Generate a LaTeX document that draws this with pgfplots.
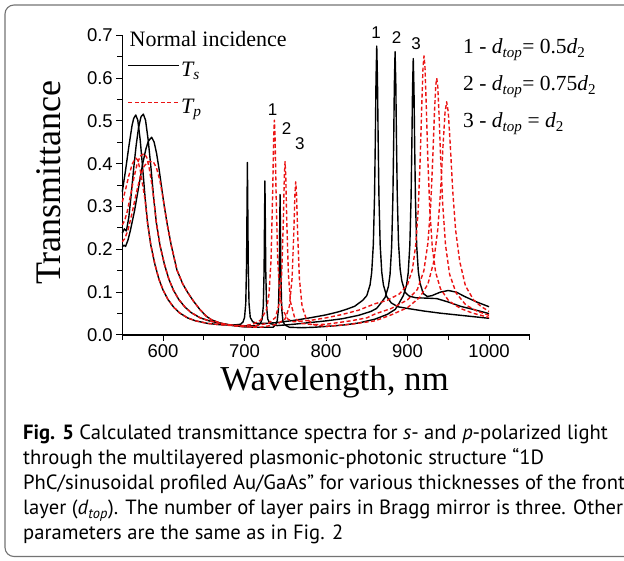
\documentclass[border=0pt]{standalone}
\usepackage{fontspec}
\setmainfont{Liberation Serif}
\newfontfamily\arial{Liberation Sans}
\newfontfamily\capfont{PT Sans}
\usepackage{pgfplots}
\pgfplotsset{compat=1.18}
\definecolor{myred}{RGB}{235,20,20}
\begin{document}
\begin{tikzpicture}[x=1pt,y=1pt]
\path[use as bounding box] (0,0) rectangle (624,561);
\draw[black!55, line width=1.1pt, rounded corners=9pt] (5,4.5) rectangle (680,556);
\begin{axis}[
 at={(122.3pt,226pt)}, anchor=south west,
 scale only axis, width=407.5pt, height=299.6pt,
 xmin=550, xmax=1050, ymin=0, ymax=0.7,
 axis lines*=left,
 axis line style={line width=1.1pt},
 xtick={600,700,800,900,1000},
 minor xtick={550,650,750,850,950,1050},
 ytick={0,0.1,0.2,0.3,0.4,0.5,0.6,0.7},
 minor ytick={0.05,0.15,0.25,0.35,0.45,0.55,0.65},
 tick align=outside,
 major tick length=6pt, minor tick length=5pt,
 tick style={line width=1pt, black},
 ticklabel style={font=\arial\fontsize{18.5}{20}\selectfont},
 /pgf/number format/assume math mode=true,
 yticklabel style={/pgf/number format/.cd, fixed, fixed zerofill, precision=1},
 xticklabel style={/pgf/number format/.cd, set thousands separator={}},
 clip=false,
 legend cell align=left,
 legend style={draw=none, fill=none, at={(axis cs:556.4,0.641)}, anchor=north west,
   font=\fontsize{22}{24}\selectfont, row sep=19pt, inner sep=0pt,
   nodes={inner sep=1pt}},
 legend image code/.code={\draw[#1, line width=1.4pt] (0pt,4pt) -- (51pt,4pt);},
 every axis plot/.append style={line width=1.4pt, line join=round},
]
% ---------- s-polarized (black) ----------
\addplot[black] coordinates {
(550,0.335) (554,0.385) (558,0.44) (562,0.49) (564,0.506) (566.5,0.514) (569,0.502) (572,0.455) (575,0.39) (578,0.32) (581,0.262) (585,0.21) (590,0.165) (595,0.13) (600,0.105) (606,0.083) (613,0.065) (620,0.052) (630,0.04) (640,0.033) (655,0.027) (670,0.024) (685,0.023) (695,0.025) (698,0.03) (700,0.041) (701.5,0.074) (702.5,0.17) (703,0.29) (703.5,0.403) (704,0.29) (704.5,0.17) (705.5,0.074) (707,0.041) (710,0.031) (715,0.027) (725,0.027) (740,0.029) (760,0.034) (780,0.04) (800,0.047) (815,0.054) (825,0.06) (835,0.067) (845,0.081) (850,0.092) (854,0.117) (856,0.146) (858,0.211) (859.5,0.325) (860.5,0.462) (861.3,0.595) (862.2,0.675) (863.1,0.595) (863.9,0.462) (864.9,0.325) (866.4,0.211) (868.4,0.146) (870.4,0.117) (874.4,0.09) (880,0.075) (888,0.066) (900,0.062) (920,0.056) (940,0.051) (960,0.047) (980,0.043) (1000,0.039)
};
\addlegendentry{{\itshape T}\textsubscript{\itshape s}}
\addplot[black, forget plot] coordinates {
(550,0.238) (552.5,0.248) (555,0.243) (558,0.275) (561,0.33) (564,0.39) (567,0.443) (570,0.485) (573,0.51) (575.8,0.516) (578.5,0.502) (581.8,0.455) (585.2,0.39) (588.5,0.32) (591.8,0.262) (596.2,0.21) (601.7,0.165) (607.2,0.13) (612.7,0.105) (619.3,0.083) (627,0.065) (634.7,0.052) (645.7,0.04) (656.7,0.033) (673,0.026) (690,0.022) (705,0.021) (715,0.022) (719.5,0.027) (721.5,0.037) (723,0.067) (724,0.153) (724.5,0.265) (725,0.36) (725.5,0.265) (726,0.153) (727,0.067) (728.5,0.037) (731,0.027) (740,0.022) (760,0.025) (780,0.029) (800,0.033) (820,0.038) (840,0.046) (855,0.055) (862,0.062) (867.5,0.075) (872.5,0.088) (876.5,0.113) (878.5,0.141) (880.5,0.206) (882,0.32) (883,0.454) (883.8,0.584) (884.7,0.662) (885.6,0.586) (886.4,0.457) (887.4,0.325) (888.9,0.216) (890.9,0.154) (892.9,0.127) (896.9,0.1) (901.9,0.091) (910,0.087) (925,0.086) (936,0.085) (950,0.077) (965,0.067) (980,0.06) (1000,0.05)
};
\addplot[black, forget plot] coordinates {
(550,0.206) (552,0.21) (554,0.207) (557,0.222) (560,0.245) (565,0.29) (570,0.345) (575,0.4) (579,0.435) (582,0.453) (586,0.462) (589,0.451) (592,0.425) (595,0.389) (598,0.348) (601,0.307) (605,0.26) (610,0.21) (617,0.152) (624,0.12) (630,0.1) (637,0.08) (645,0.06) (653,0.044) (660,0.035) (670,0.028) (685,0.022) (700,0.019) (720,0.018) (735,0.018) (738.1,0.024) (740.1,0.033) (741.6,0.061) (742.6,0.139) (743.1,0.241) (743.6,0.328) (744.1,0.241) (744.6,0.139) (745.6,0.061) (747.1,0.033) (749.1,0.024) (755,0.018) (770,0.017) (785,0.018) (800,0.02) (820,0.023) (840,0.028) (860,0.037) (875,0.048) (885,0.06) (889.8,0.075) (894.8,0.092) (898.8,0.117) (900.8,0.145) (902.8,0.209) (904.3,0.318) (905.3,0.447) (906.1,0.572) (907,0.646) (907.9,0.572) (908.7,0.447) (909.7,0.318) (911.2,0.209) (913.2,0.149) (915.2,0.122) (919.2,0.097) (924.2,0.09) (930,0.092) (940,0.1) (950,0.104) (960,0.1) (970,0.09) (985,0.077) (1000,0.066)
};
% ---------- p-polarized (red dashed) ----------
\addplot[myred, dash pattern=on 4pt off 2.5pt] coordinates {
(550,0.311) (554,0.34) (558,0.372) (562,0.398) (565,0.41) (567,0.413) (569,0.408) (572,0.385) (575,0.35) (578,0.315) (581,0.262) (585,0.21) (590,0.165) (595,0.13) (600,0.105) (606,0.083) (613,0.065) (620,0.052) (630,0.04) (640,0.033) (655,0.027) (670,0.024) (685,0.022) (700,0.022) (710,0.025) (720,0.035) (727,0.06) (730,0.095) (732.5,0.175) (734.5,0.33) (735.7,0.457) (736.6,0.502) (737.5,0.457) (738.7,0.33) (740.7,0.175) (743.2,0.095) (746.2,0.061) (753.2,0.037) (760,0.031) (780,0.034) (800,0.04) (820,0.048) (840,0.058) (860,0.073) (875,0.081) (890,0.096) (900,0.118) (906,0.153) (910,0.21) (913,0.29) (915.5,0.41) (917.5,0.54) (919,0.626) (920.2,0.652) (921.4,0.626) (922.9,0.54) (924.9,0.41) (927.4,0.29) (930.4,0.204) (934.4,0.147) (940.4,0.108) (950.4,0.08) (965,0.062) (980,0.051) (1000,0.041)
};
\addlegendentry{{\itshape T}\textsubscript{\itshape p}}
\addplot[myred, dash pattern=on 4pt off 2.5pt, forget plot] coordinates {
(550,0.257) (553,0.268) (556,0.288) (560,0.325) (564,0.365) (568,0.398) (572,0.418) (576.7,0.424) (580,0.415) (583,0.39) (586,0.355) (588.5,0.32) (591.8,0.262) (596.2,0.21) (601.7,0.165) (607.2,0.13) (612.7,0.105) (619.3,0.083) (627,0.065) (634.7,0.052) (645.7,0.04) (656.7,0.033) (673,0.026) (690,0.022) (710,0.02) (730,0.028) (738,0.041) (743,0.077) (745.6,0.142) (747.6,0.266) (748.8,0.369) (749.7,0.405) (750.6,0.369) (751.8,0.266) (753.8,0.142) (756.4,0.077) (761.4,0.041) (770,0.027) (785,0.024) (800,0.025) (830,0.033) (850,0.04) (860,0.049) (880,0.062) (900,0.082) (912,0.106) (920,0.15) (925,0.215) (928.5,0.307) (931,0.415) (933,0.518) (934.6,0.583) (935.8,0.6) (937,0.583) (938.6,0.518) (940.6,0.415) (943.1,0.307) (946.6,0.21) (951.6,0.142) (959.6,0.098) (971.6,0.07) (985,0.056) (1000,0.046)
};
\addplot[myred, dash pattern=on 4pt off 2.5pt, forget plot] coordinates {
(550,0.218) (553,0.225) (557,0.245) (562,0.285) (567,0.33) (572,0.37) (577,0.395) (582,0.405) (588,0.405) (592,0.39) (596,0.362) (600,0.32) (605,0.26) (610,0.21) (617,0.152) (624,0.12) (630,0.1) (637,0.08) (645,0.06) (653,0.044) (660,0.035) (670,0.028) (685,0.022) (700,0.019) (720,0.018) (740,0.025) (750,0.038) (755,0.067) (758.3,0.132) (760.5,0.242) (761.8,0.328) (762.8,0.358) (763.8,0.328) (765.1,0.242) (767.3,0.132) (770.6,0.067) (775.6,0.038) (785,0.024) (800,0.02) (830,0.025) (860,0.033) (880,0.047) (900,0.064) (915,0.088) (925,0.119) (932,0.17) (937,0.245) (940.5,0.335) (943.5,0.441) (946,0.52) (948,0.545) (950,0.52) (952.5,0.441) (955.5,0.335) (959,0.245) (964,0.172) (971,0.115) (981,0.082) (990,0.067) (1000,0.055)
};
% peak numbers
\begin{scope}[every node/.style={font=\arial\fontsize{17}{17}\selectfont, inner sep=0pt}]
\node at (axis cs:734.5,0.526) {1};
\node at (axis cs:751.7,0.483) {2};
\node at (axis cs:768,0.448) {3};
\node at (axis cs:861.3,0.706) {1};
\node at (axis cs:886.7,0.696) {2};
\node at (axis cs:910.4,0.68) {3};
\end{scope}
\end{axis}
% texts in picture coordinates (1pt = 1px, y up)
\node[anchor=base west, inner sep=0pt, font=\fontsize{22}{24}\selectfont] at (129.5,514) {Normal incidence};
\begin{scope}[every node/.style={anchor=base west, inner sep=0pt, font=\fontsize{21.5}{24}\selectfont}]
\node at (463,507) {1 - {\itshape d}\textsubscript{\itshape top}= 0.5{\itshape d}\textsubscript{2}};
\node at (463,470) {2 - {\itshape d}\textsubscript{\itshape top}= 0.75{\itshape d}\textsubscript{2}};
\node at (463,433) {3 - {\itshape d}\textsubscript{\itshape top} = {\itshape d}\textsubscript{2}};
\end{scope}
\node[anchor=base, inner sep=0pt, font=\fontsize{35}{36}\selectfont] at (334.7,170) {Wavelength, nm};
\node[anchor=base, rotate=90, inner sep=0pt, font=\fontsize{36}{36}\selectfont] at (60,378.5) {Transmittance};
\begin{scope}[every node/.style={anchor=base west, inner sep=0pt, font=\capfont\fontsize{20.6}{23}\selectfont}]
\node at (23,121) {\textbf{Fig. 5} Calculated transmittance spectra for \textit{s}- and \textit{p}-polarized light};
\node at (23,96) {through the multilayered plasmonic-photonic structure “1D};
\node at (23,71) {PhC/sinusoidal profiled Au/GaAs” for various thicknesses of the front};
\node at (23,46) {layer (\textit{d}\textsubscript{\textit{top}}). The number of layer pairs in Bragg mirror is three. Other};
\node at (23,21) {parameters are the same as in Fig. 2};
\end{scope}
\end{tikzpicture}
\end{document}
